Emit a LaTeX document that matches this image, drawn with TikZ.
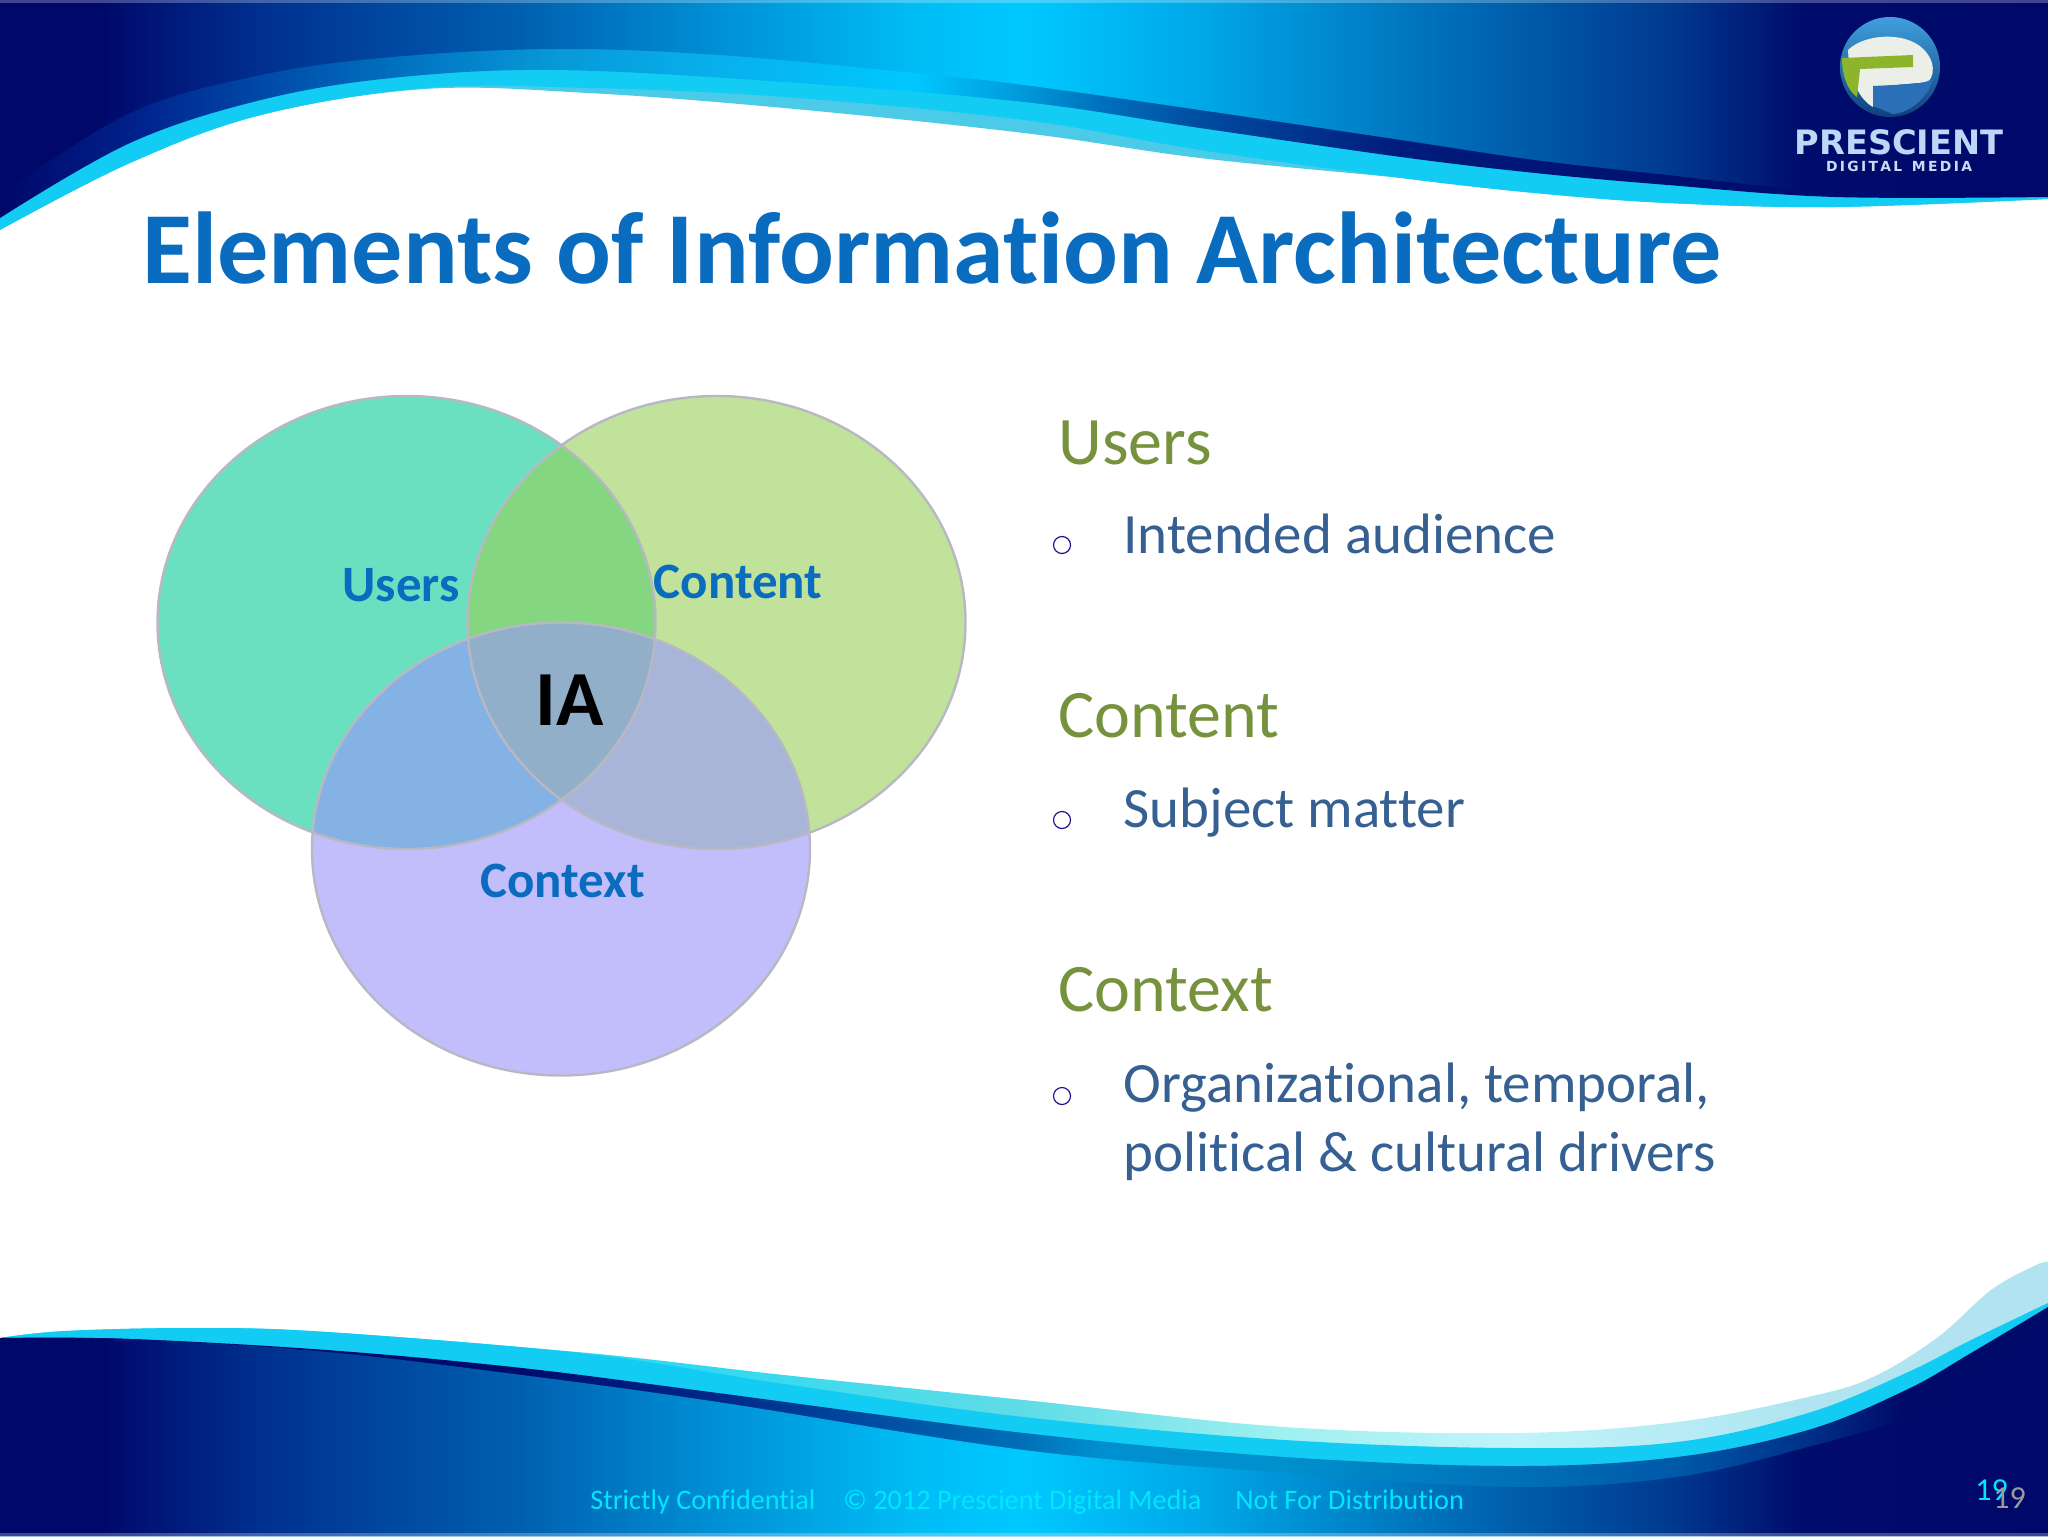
\documentclass[tikz,border=0pt]{standalone}
\usepackage{fontspec}
\setmainfont[Ligatures=NoCommon]{Carlito}
\newfontfamily\logofont{DejaVu Sans}
\usepackage{xcolor}
\definecolor{navyDeep}{HTML}{00086A}
\definecolor{titleBlue}{HTML}{0A6CBF}
\definecolor{headGreen}{HTML}{76923C}
\definecolor{bodyBlue}{HTML}{366092}
\definecolor{dotBlue}{HTML}{20108F}
\definecolor{footCyan}{HTML}{00E6FF}
\definecolor{ringGrey}{HTML}{B8B8C4}
\definecolor{usersFill}{HTML}{6BE0C0}
\definecolor{contentFill}{HTML}{C0E29A}
\definecolor{contextFill}{HTML}{C1BEFB}
\definecolor{usersContent}{HTML}{85D680}
\definecolor{usersContext}{HTML}{85B2E4}
\definecolor{contentContext}{HTML}{A9B5D8}
\definecolor{allThree}{HTML}{92AFC9}
\definecolor{cyanBand}{HTML}{12CCF4}
\definecolor{paleBand}{HTML}{4CCBE8}
\definecolor{pageGreyText}{HTML}{9A9A9A}
\definecolor{logoTop}{HTML}{3FA0DC}
\definecolor{logoLow}{HTML}{0F3F7C}
\definecolor{logoWhite}{HTML}{ECEEE8}
\definecolor{logoGreen}{HTML}{8DB52C}
\definecolor{logoPanel}{HTML}{2A70B8}
\definecolor{logoName}{HTML}{BCD8F6}
\definecolor{logoSub}{HTML}{C8DCF4}
\newcommand\hexStop[1]{\definecolor{hx#1}{HTML}{#1}}
\hexStop{003090}\hexStop{0060B0}\hexStop{0090D5}\hexStop{00BCF5}\hexStop{00C8FF}\hexStop{00A8E8}
\hexStop{0078C0}\hexStop{0058A8}\hexStop{003A90}\hexStop{000C6C}
\hexStop{00208A}\hexStop{004AA8}\hexStop{0070BE}\hexStop{0898D8}\hexStop{08B0EC}\hexStop{0098D8}
\hexStop{0070BC}\hexStop{004CA0}\hexStop{001C7C}\hexStop{001070}
\hexStop{002888}\hexStop{0070B8}\hexStop{0090D0}\hexStop{0090CC}\hexStop{003088}\hexStop{000A68}
\hexStop{30D8F0}\hexStop{60DCE6}\hexStop{A0F0F0}\hexStop{C0F4FA}\hexStop{B0E4F0}\hexStop{B8E0F0}
\pgfdeclarehorizontalshading{mainShade}{100bp}{
  color(0bp)=(navyDeep); color(27.4bp)=(navyDeep);
  color(31.4bp)=(hx003090); color(37.7bp)=(hx0060B0);
  color(42.5bp)=(hx0090D5); color(47.3bp)=(hx00BCF5);
  color(50bp)=(hx00C8FF); color(54.3bp)=(hx00A8E8);
  color(59.2bp)=(hx0078C0); color(62.5bp)=(hx0058A8);
  color(65.7bp)=(hx003A90); color(69bp)=(hx000C6C);
  color(75bp)=(navyDeep); color(100bp)=(navyDeep)}
\pgfdeclarehorizontalshading{ribbonTopShade}{100bp}{
  color(0bp)=(navyDeep); color(25bp)=(navyDeep);
  color(28.2bp)=(hx00208A); color(31.4bp)=(hx004AA8);
  color(34.6bp)=(hx0070BE); color(38.5bp)=(hx0898D8);
  color(42.5bp)=(hx08B0EC); color(47.3bp)=(hx00C8FF);
  color(50bp)=(hx0098D8); color(51.9bp)=(hx0070BC);
  color(54.3bp)=(hx004CA0); color(59.2bp)=(hx001C7C);
  color(65.7bp)=(hx001070); color(75bp)=(navyDeep); color(100bp)=(navyDeep)}
\pgfdeclarehorizontalshading{ribbonLowShade}{100bp}{
  color(0bp)=(navyDeep); color(37.7bp)=(hx000C6C);
  color(42.5bp)=(hx002888); color(50bp)=(hx0070B8);
  color(51.9bp)=(hx0090D0); color(56.4bp)=(hx0090CC);
  color(62bp)=(hx0070B8); color(66bp)=(hx0058A8);
  color(69.1bp)=(hx003088); color(71.5bp)=(hx000A68);
  color(100bp)=(navyDeep)}
\pgfdeclarehorizontalshading{paleLowShade}{100bp}{
  color(0bp)=(hx30D8F0); color(42bp)=(hx30D8F0);
  color(50bp)=(hx60DCE6); color(56.4bp)=(hxA0F0F0);
  color(62bp)=(hxC0F4FA); color(69bp)=(hxB0E4F0);
  color(100bp)=(hxB8E0F0)}
\tikzset{
  slideText/.style={inner sep=0pt, anchor=base west},
  headText/.style={slideText, text=headGreen, font=\fontsize{34}{34}\selectfont},
  bodyText/.style={slideText, text=bodyBlue, font=\fontsize{28.5}{28.5}\selectfont},
  vennRing/.style={draw=ringGrey, line width=1.2pt},
  vennLabel/.style={inner sep=0pt, anchor=base, text=titleBlue, font=\fontsize{25.5}{25.5}\selectfont\bfseries},
  listDot/.style={circle, draw=dotBlue, line width=0.6pt, minimum size=8.5pt, inner sep=0pt}
}

\begin{document}
\begin{tikzpicture}[x=0.5pt,y=-0.5pt]
  \useasboundingbox (0,0) rectangle (2048,1536);
  \def\rX{249}
  \def\rY{226.5}
  \coordinate (U) at (406.5,622.5);
  \coordinate (N) at (716.5,622.5);
  \coordinate (X) at (561,849);

  % top band
  \fill[paleBand] (0,0) -- plot[smooth,tension=0.6] coordinates {(0,230) (130,163) (261,115) (425,89) (588,93) (784,108) (1024,133) (1200,158) (1401,178) (1535,193) (1668,203) (1835,207) (2048,199)} -- (2048,0) -- cycle;
  \fill[cyanBand] (0,0) -- plot[smooth,tension=0.6] coordinates {(0,230) (130,163) (261,115) (425,88) (588,88) (784,97) (1024,120) (1200,150) (1401,178) (1535,193) (1668,203) (1835,207) (2048,199)} -- (2048,0) -- cycle;
  \shade[shading=ribbonTopShade] (0,0) -- plot[smooth,tension=0.6] coordinates {(0,218) (130,143) (261,100) (392,78) (555,70) (784,82) (1024,102) (1200,128) (1401,157) (1535,173) (1668,185) (1835,197) (2048,197)} -- (2048,0) -- cycle;
  \shade[shading=mainShade] (0,0) -- plot[smooth,tension=0.6] coordinates {(0,195) (130,113) (261,75) (392,57) (555,49) (719,55) (915,73) (1024,85) (1200,110) (1401,140) (1535,160) (1668,175) (1835,192) (2048,196)} -- (2048,0) -- cycle;
  \fill[white,opacity=0.25] (0,0) rectangle (2048,3);

  % bottom band
  \shade[shading=paleLowShade] (0,1536) -- plot[smooth,tension=0.6] coordinates {(0,1338) (65,1331) (196,1328) (327,1332) (588,1353) (784,1375) (1024,1400) (1285,1427) (1514,1433) (1677,1422) (1808,1397) (1873,1377) (1938,1337) (1991,1290) (2036,1265) (2048,1262)} -- (2048,1536) -- cycle;
  \fill[cyanBand] (0,1536) -- plot[smooth,tension=0.6] coordinates {(0,1338) (65,1331) (196,1328) (327,1332) (588,1354) (784,1384) (1024,1417) (1285,1440) (1514,1448) (1677,1442) (1808,1413) (1906,1373) (1971,1340) (2048,1303)} -- (2048,1536) -- cycle;
  \shade[shading=ribbonLowShade] (0,1536) -- plot[smooth,tension=0.6] coordinates {(0,1338) (130,1339) (327,1350) (522,1368) (718,1393) (1024,1433) (1285,1457) (1514,1466) (1677,1457) (1808,1430) (1906,1390) (1971,1353) (2048,1307)} -- (2048,1536) -- cycle;
  \shade[shading=mainShade] (0,1536) -- plot[smooth,tension=0.6] coordinates {(0,1338) (130,1339) (327,1352) (522,1375) (718,1402) (1024,1450) (1285,1473) (1514,1487) (1677,1477) (1808,1447) (1906,1417) (1971,1375) (2048,1320)} -- (2048,1536) -- cycle;
  \fill[white,opacity=0.25] (0,1533) rectangle (2048,1536);

  % logo
  \shade[top color=logoTop, bottom color=logoLow] (1890,67) circle (50);
  \fill[logoWhite] (1848,50) .. controls (1862,36) and (1895,32) .. (1915,43) .. controls (1932,52) and (1938,72) .. (1928,82) -- (1873,87) -- (1873,107) .. controls (1860,100) and (1849,80) .. (1848,50) -- cycle;
  \fill[logoGreen] (1842,58) -- (1913,55) -- (1913,67) -- (1860,69) -- (1857,97) .. controls (1847,90) and (1842,75) .. (1842,58) -- cycle;
  \fill[logoPanel] (1873,86) -- (1915,84) .. controls (1925,83) and (1930,80) .. (1933,79) .. controls (1927,100) and (1908,113) .. (1893,114) -- (1873,106) -- cycle;
  \node[inner sep=0pt, anchor=base, text=logoName, font=\logofont\fontsize{16.8}{16.8}\selectfont\bfseries] (logoNameText) at (1899,155) {PRESCIENT};
  \node[inner sep=0pt, anchor=base, text=logoSub, font=\logofont\fontsize{6.95}{6.95}\selectfont\bfseries] (logoSubText) at (1899,171) {D\,I\,G\,I\,T\,A\,L\ \ M\,E\,D\,I\,A};

  % title
  \node[slideText, text=titleBlue, font=\fontsize{51.1}{51.1}\selectfont\bfseries] (title) at (142,283) {Elements of Information Architecture};

  % venn fills
  \fill[usersFill] (U) ellipse [x radius=\rX, y radius=\rY];
  \fill[contentFill] (N) ellipse [x radius=\rX, y radius=\rY];
  \fill[contextFill] (X) ellipse [x radius=\rX, y radius=\rY];
  \begin{scope}
    \clip (U) ellipse [x radius=\rX, y radius=\rY];
    \fill[usersContent] (N) ellipse [x radius=\rX, y radius=\rY];
    \fill[usersContext] (X) ellipse [x radius=\rX, y radius=\rY];
  \end{scope}
  \begin{scope}
    \clip (N) ellipse [x radius=\rX, y radius=\rY];
    \fill[contentContext] (X) ellipse [x radius=\rX, y radius=\rY];
    \clip (U) ellipse [x radius=\rX, y radius=\rY];
    \fill[allThree] (X) ellipse [x radius=\rX, y radius=\rY];
  \end{scope}
  \draw[vennRing] (U) ellipse [x radius=\rX, y radius=\rY];
  \draw[vennRing] (N) ellipse [x radius=\rX, y radius=\rY];
  \draw[vennRing] (X) ellipse [x radius=\rX, y radius=\rY];

  \node[vennLabel] (usersLabel) at (401,601) {Users};
  \node[vennLabel] (contentLabel) at (738,598) {Content};
  \node[vennLabel] (contextLabel) at (562.5,897) {Context};
  \node[vennLabel, text=black, font=\fontsize{39}{39}\selectfont\bfseries] (iaLabel) at (570,725) {IA};

  % list on the right
  \node[headText] (usersHead) at (1058,464) {Users};
  \node[listDot] (usersDot) at (1062,545) {};
  \node[bodyText] (usersItem) at (1123,553.5) {Intended audience};

  \node[headText] (contentHead) at (1058,737.5) {Content};
  \node[listDot] (contentDot) at (1062,820) {};
  \node[bodyText] (contentItem) at (1123,827.5) {Subject matter};

  \node[headText] (contextHead) at (1058,1011.5) {Context};
  \node[listDot] (contextDot) at (1062,1096) {};
  \node[bodyText] (contextItem) at (1123,1102.5) {Organizational, temporal,};
  \node[bodyText] (contextMore) at (1123,1171.5) {political \& cultural drivers};

  % footer
  \node[slideText, text=footCyan, font=\fontsize{14.13}{14.13}\selectfont] (footer) at (590,1509) {Strictly Confidential\hspace{14pt}© 2012 Prescient Digital Media\hspace{17pt}Not For Distribution};
  \node[slideText, text=footCyan, font=\fontsize{16}{16}\selectfont] (pageCyan) at (1975,1500) {19};
  \node[slideText, text=pageGreyText, font=\fontsize{16}{16}\selectfont] (pageGrey) at (1993,1508) {19};
\end{tikzpicture}
\end{document}
